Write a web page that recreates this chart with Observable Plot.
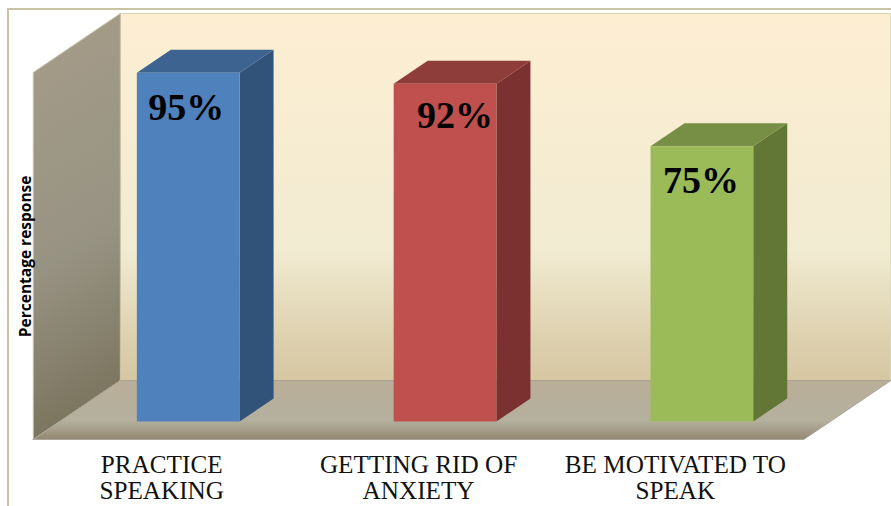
<!DOCTYPE html>
<html>
<head>
<meta charset="utf-8">
<script src="https://cdn.jsdelivr.net/npm/d3@7"></script>
<script src="https://cdn.jsdelivr.net/npm/@observablehq/plot@0.6"></script>
<style>
  html, body { margin: 0; padding: 0; background: #fff; overflow: hidden; }
  #chart { position: relative; width: 891px; height: 506px; overflow: hidden; }
  #frame { position: absolute; left: 7px; top: 8px; width: 900px; height: 520px;
           border-left: 2px solid #c9c3a3; border-top: 2px solid #c9c3a3; }
  #chart svg { position: absolute; left: 0; top: 0; background: transparent; }
</style>
</head>
<body>
<div id="chart"><div id="frame"></div></div>
<script>
// Survey results
const categories = ["PRACTICE\nSPEAKING", "GETTING RID OF\nANXIETY", "BE MOTIVATED TO\nSPEAK"];
const percentages = [95, 92, 75];
const labelNudgeX = [-3, 9, -2];
const labelNudgeY = [1, -2, 1];

// Face colours: front, top, side
const frontColors = ["#4f81bd", "#c0504d", "#9bbb59"];
const topColors = ["#3d6490", "#8e3d3b", "#778f44"];
const sideColors = ["#315279", "#7a3130", "#627635"];

// Oblique projection: one unit of depth shifts a point right along x and up the value axis
const depthX = 34 / 256.8;
const depthY = 23 / 3.67;
const floorFront = -0.78;
const floorBack = 1.78;
const barHalf = 0.2;
const axisTop = 100;

const at = (x, v, d = 0) => ({x: x + d * depthX, y: v + d * depthY});
const left = -0.5;
const right = 2.5;

// Filled polygon through projected corners
const face = (points, fill, stroke = "none") =>
  Plot.line(points.concat(points.slice(0, 1)), {x: "x", y: "y", fill, stroke, strokeWidth: 1, curve: "linear"});

// Gradient definitions used by the walls and the floor
const gradients = () => {
  const defs = d3.create("svg:defs");
  const add = (id, [x1, y1, x2, y2], stops) => {
    const g = defs.append("linearGradient").attr("id", id)
      .attr("x1", x1).attr("y1", y1).attr("x2", x2).attr("y2", y2);
    stops.forEach(([o, c]) => g.append("stop").attr("offset", o).attr("stop-color", c));
  };
  add("backWall", [0, 0, 0, 1], [[0, "#fdeed2"], [0.645, "#f1ebd2"], [0.78, "#e6dcbe"], [0.89, "#ddd0ae"], [1, "#d6c7a2"]]);
  add("sideWall", [0, 0, 0.12, 1], [[0, "#a69c88"], [0.6, "#979383"], [1, "#7b745e"]]);
  add("floor", [0, 0, 0, 1], [[0, "#baae98"], [0.68, "#b4b09e"], [0.85, "#a49c88"], [1, "#93866f"]]);
  return defs.node();
};

const walls = [
  face([at(left, 0, floorBack), at(right, 0, floorBack), at(right, axisTop, floorBack), at(left, axisTop, floorBack)],
       "url(#backWall)", "#d9d3b4"),
  face([at(left, 0, floorFront), at(left, 0, floorBack), at(left, axisTop, floorBack), at(left, axisTop, floorFront)],
       "url(#sideWall)", "#c9c3a3"),
  face([at(left, 0, floorFront), at(right, 0, floorFront), at(right, 0, floorBack), at(left, 0, floorBack)],
       "url(#floor)", "#a8a498")
];

const bars = percentages.flatMap((v, i) => {
  const a = i - barHalf, b = i + barHalf;
  return [
    face([at(b, 0, 0), at(b, 0, 1), at(b, v, 1), at(b, v, 0)], sideColors[i]),
    face([at(a, v, 0), at(b, v, 0), at(b, v, 1), at(a, v, 1)], topColors[i]),
    face([at(a, 0, 0), at(b, 0, 0), at(b, v, 0), at(a, v, 0)], frontColors[i])
  ];
});

const valueLabels = percentages.map((v, i) =>
  Plot.text([v], {
    x: () => i, y: d => d, text: d => `${d}%`,
    dx: labelNudgeX[i] + 1, dy: 34 + labelNudgeY[i],
    fontFamily: "Liberation Serif", fontWeight: "bold", fontSize: 38, fill: "#000"
  }));

const categoryLabels = Plot.text(categories, {
  x: (d, i) => at(i, 0, floorFront).x,
  y: () => at(0, 0, floorFront).y,
  text: d => d,
  dy: 38.5, lineHeight: 1.0,
  fontFamily: "Liberation Serif", fontSize: 25.2, fill: "#111"
});

const yTitle = Plot.text(["Percentage response"], {
  x: () => at(left, 0, floorFront).x,
  y: () => 45,
  text: d => d,
  dx: -7.5, rotate: -90,
  fontFamily: "Open Sans", fontWeight: "bold", fontSize: 15.5, fill: "#000"
});

const chart = Plot.plot({
  width: 891,
  height: 506,
  margin: 0,
  x: {domain: [left, right], range: [59.3, 829.8], axis: null},
  y: {domain: [0, axisTop], range: [421, 54], axis: null},
  marks: [gradients, ...walls, ...bars, ...valueLabels, categoryLabels, yTitle]
});
document.getElementById("chart").append(chart);
</script>
</body>
</html>
